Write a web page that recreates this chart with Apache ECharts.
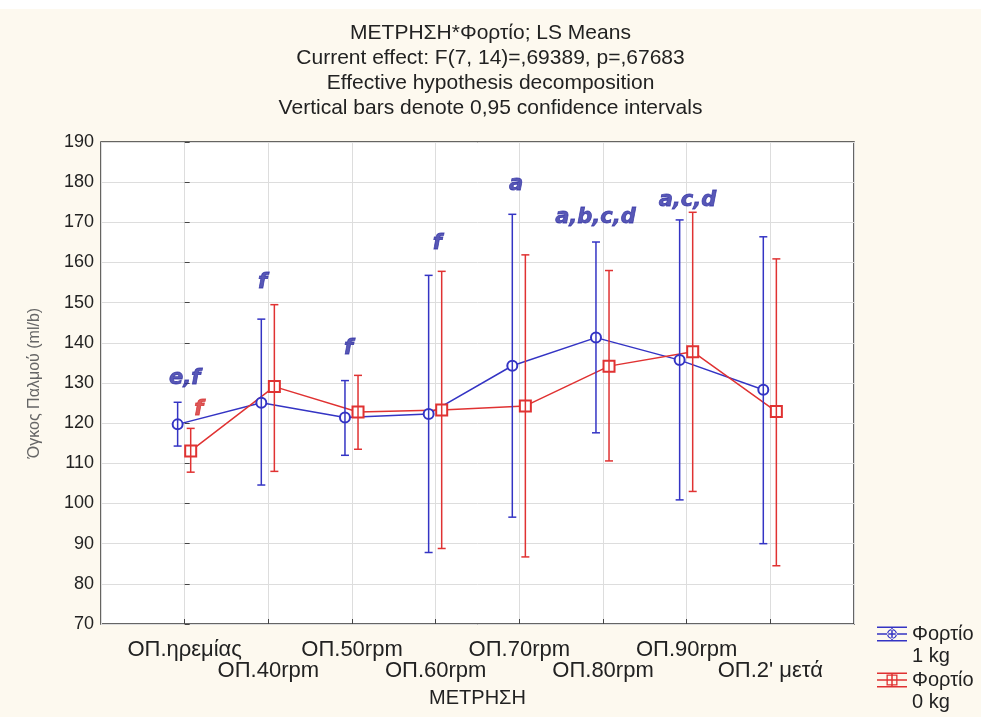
<!DOCTYPE html>
<html>
<head>
<meta charset="utf-8">
<script src="https://cdn.jsdelivr.net/npm/echarts@6/dist/echarts.min.js"></script>
<style>
html, body { margin: 0; padding: 0; background: #fdf9ef; }
#chart { width: 981px; height: 717px; }
</style>
</head>
<body>
<div id="chart"></div>
<script>
// ΜΕΤΡΗΣΗ categories (x axis)
var categories = ['ΟΠ.ηρεμίας', 'ΟΠ.40rpm', 'ΟΠ.50rpm', 'ΟΠ.60rpm', 'ΟΠ.70rpm', 'ΟΠ.80rpm', 'ΟΠ.90rpm', "ΟΠ.2' μετά"];

// Φορτίο 1 kg : LS mean and 0,95 CI
var load1Mean = [119.7, 125.1, 121.4, 122.3, 134.3, 141.3, 135.7, 128.3];
var load1Low = [114.3, 104.6, 112.0, 87.8, 96.6, 117.6, 100.9, 90.0];
var load1High = [125.2, 145.9, 130.6, 156.8, 172.0, 165.1, 170.6, 166.4];

// Φορτίο 0 kg : LS mean and 0,95 CI
var load0Mean = [113.1, 129.1, 122.8, 123.3, 124.3, 134.2, 137.8, 122.9];
var load0Low = [107.8, 108.0, 113.5, 88.8, 86.7, 110.6, 103.0, 84.5];
var load0High = [118.7, 149.5, 131.9, 157.8, 161.9, 158.0, 172.5, 160.9];

// significance letters (x = category index, y = axis value)
var letters1 = ['e,f', 'f', 'f', 'f', 'a', 'a,b,c,d', 'a,c,d'];
var letters1X = [0, 0.93, 1.96, 3.02, 3.96, 4.91, 6.01];
var letters1Y = [131.0, 154.9, 138.5, 164.6, 179.5, 171.1, 175.3];
var letters0 = ['f'];
var letters0X = [0.17];
var letters0Y = [123.3];

var titleLines = [
	'ΜΕΤΡΗΣΗ*Φορτίο; LS Means',
	'Current effect: F(7, 14)=,69389, p=,67683',
	'Effective hypothesis decomposition',
	'Vertical bars denote 0,95 confidence intervals'
];

var BLUE = '#3434c4';
var RED = '#e03232';
// the two loads sit slightly left / right of each category
var SHIFT1 = -0.084;
var SHIFT0 = 0.072;

// legend icons: error bar caps + marker with a cross, kept in the top of a taller box
// so that they line up with the first text line (tiny speck at the bottom sets the box)
var ICON_BASE = 'path://M0,0H30V1.5H0Z M0,13.5H30V15H0Z M0,6.75H30V8.25H0Z M14.25,1.5H15.75V13.5H14.25Z'
	+ ' M0,36.9H0.05V37H0Z';
var ICON_CIRCLE = ICON_BASE + ' M10,7.5a5,5 0 1,0 10,0a5,5 0 1,0 -10,0Z M11.3,7.5a3.7,3.7 0 1,1 7.4,0a3.7,3.7 0 1,1 -7.4,0Z';
var ICON_SQUARE = ICON_BASE + ' M9.5,2H20.5V13H9.5Z M10.8,3.3V11.7H19.2V3.3Z';

function points(mean, shift) {
	return mean.map(function (v, i) { return [i + shift, v]; });
}

function bars(low, high, shift) {
	return low.map(function (v, i) { return [i + shift, v, high[i]]; });
}

function labels(txt, xs, ys) {
	return txt.map(function (t, i) { return { value: [xs[i], ys[i]], name: t }; });
}

function errorBars(color) {
	return function (params, api) {
		var x = api.value(0);
		var lo = api.coord([x, api.value(1)]);
		var hi = api.coord([x, api.value(2)]);
		var cap = 4;
		var style = { stroke: color, lineWidth: 1.5 };
		return {
			type : 'group',
			children : [
				{ type : 'line', shape : { x1 : lo[0], y1 : lo[1], x2 : hi[0], y2 : hi[1] }, style : style },
				{ type : 'line', shape : { x1 : lo[0] - cap, y1 : lo[1], x2 : lo[0] + cap, y2 : lo[1] }, style : style },
				{ type : 'line', shape : { x1 : hi[0] - cap, y1 : hi[1], x2 : hi[0] + cap, y2 : hi[1] }, style : style }
			]
		};
	};
}

function letterLabel(color) {
	return {
		show : true,
		formatter : '{b}',
		position : 'inside',
		fontFamily : 'DejaVu Sans',
		fontStyle : 'italic',
		fontWeight : 'bold',
		fontSize : 21,
		color : color,
		textBorderColor : color,
		textBorderWidth : 0.8
	};
}

var chart = echarts.init(document.getElementById('chart'));
chart.setOption({
	backgroundColor : '#fdf9ef',
	animation : false,
	textStyle : { fontFamily : 'Liberation Sans' },
	title : {
		text : titleLines.join('\n'),
		left : 'center',
		top : 21,
		padding : 0,
		textStyle : { fontSize : 21, fontWeight : 'normal', color : '#222', lineHeight : 25 }
	},
	graphic : [ {
		type : 'rect',
		shape : { x : 0, y : 0, width : 981, height : 9 },
		style : { fill : '#fff' }
	} ],
	legend : {
		data : [
			{ name : 'Φορτίο\n1 kg', icon : ICON_CIRCLE },
			{ name : 'Φορτίο\n0 kg', icon : ICON_SQUARE }
		],
		orient : 'vertical',
		left : 877,
		top : 623,
		padding : 0,
		itemWidth : 30,
		itemHeight : 37,
		itemGap : 2,
		textStyle : { fontSize : 20, color : '#222', lineHeight : 22 }
	},
	grid : {
		left : 101,
		right : 127,
		top : 142,
		bottom : 93,
		show : true,
		backgroundColor : '#fff',
		borderColor : '#333',
		borderWidth : 1.5,
		containLabel : false,
		outerBoundsMode : 'none'
	},
	xAxis : {
		type : 'value',
		min : -1,
		max : 8,
		interval : 1,
		name : 'ΜΕΤΡΗΣΗ',
		nameLocation : 'middle',
		nameGap : 64,
		nameTextStyle : { fontSize : 20, color : '#222' },
		axisLine : { show : false },
		axisTick : { inside : true, length : 5, lineStyle : { color : '#444' } },
		splitLine : { show : true, lineStyle : { color : '#dddddd', width : 1 } },
		axisLabel : {
			margin : 15,
			fontSize : 22,
			lineHeight : 21,
			color : '#222',
			showMinLabel : false,
			showMaxLabel : false,
			formatter : function (v) {
				var i = Math.round(v);
				if (i < 0 || i >= categories.length) return '';
				return (i % 2 ? '\n' : '') + categories[i];
			}
		}
	},
	yAxis : {
		type : 'value',
		min : 70,
		max : 190,
		interval : 10,
		name : 'Όγκος Παλμού (ml/b)',
		nameLocation : 'middle',
		nameGap : 58,
		nameTextStyle : { fontSize : 16, color : '#666' },
		axisLine : { show : false },
		axisTick : { inside : true, length : 5, lineStyle : { color : '#444' } },
		splitLine : { show : true, lineStyle : { color : '#dddddd', width : 1 } },
		axisLabel : { margin : 7, fontSize : 18, color : '#222' }
	},
	series : [ {
		name : 'Φορτίο\n1 kg',
		type : 'line',
		data : points(load1Mean, SHIFT1),
		symbol : 'emptyCircle',
		symbolSize : 10,
		itemStyle : { color : BLUE, borderWidth : 1.2 },
		lineStyle : { color : BLUE, width : 1.5 },
		z : 3
	}, {
		name : 'Φορτίο\n0 kg',
		type : 'line',
		data : points(load0Mean, SHIFT0),
		symbol : 'emptyRect',
		symbolSize : 11,
		itemStyle : { color : RED, borderWidth : 1.2 },
		lineStyle : { color : RED, width : 1.5 },
		z : 3
	}, {
		type : 'custom',
		data : bars(load1Low, load1High, SHIFT1),
		encode : { x : 0, y : [ 1, 2 ] },
		renderItem : errorBars(BLUE),
		z : 4
	}, {
		type : 'custom',
		data : bars(load0Low, load0High, SHIFT0),
		encode : { x : 0, y : [ 1, 2 ] },
		renderItem : errorBars(RED),
		z : 4
	}, {
		type : 'scatter',
		data : labels(letters1, letters1X, letters1Y),
		symbolSize : 1,
		itemStyle : { color : 'rgba(0,0,0,0)' },
		label : letterLabel('#2e2ea4'),
		z : 5
	}, {
		type : 'scatter',
		data : labels(letters0, letters0X, letters0Y),
		symbolSize : 1,
		itemStyle : { color : 'rgba(0,0,0,0)' },
		label : letterLabel('#d42e2e'),
		z : 5
	} ]
});
</script>
</body>
</html>
